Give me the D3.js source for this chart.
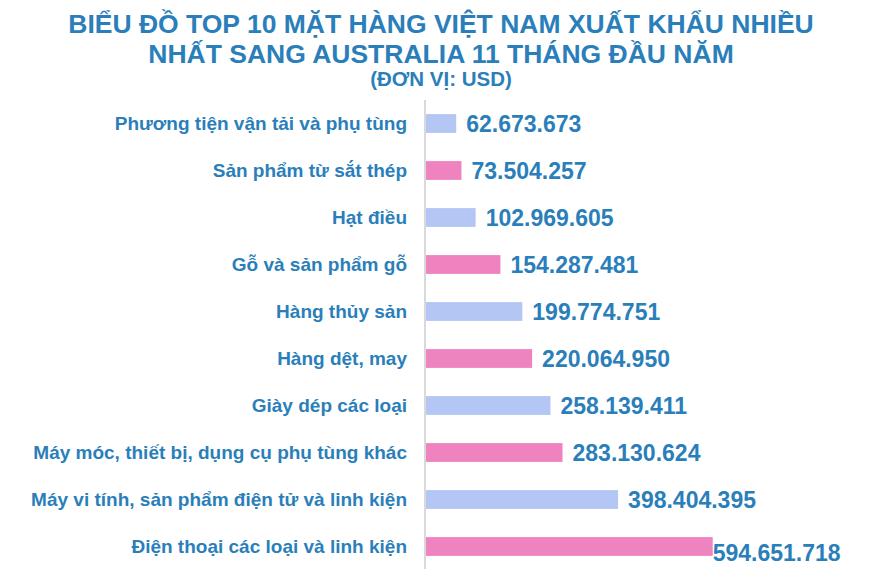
<!DOCTYPE html>
<html>
<head>
<meta charset="utf-8">
<script src="https://cdn.jsdelivr.net/npm/d3@7"></script>
<style>
  body { margin: 0; background: white; }
  text { font-family: "Liberation Sans", Arial, sans-serif; font-weight: bold; }
</style>
</head>
<body>
<script>
const categories = [
    "Phương tiện vận tải và phụ tùng",
    "Sản phẩm từ sắt thép",
    "Hạt điều",
    "Gỗ và sản phẩm gỗ",
    "Hàng thủy sản",
    "Hàng dệt, may",
    "Giày dép các loại",
    "Máy móc, thiết bị, dụng cụ phụ tùng khác",
    "Máy vi tính, sản phẩm điện tử và linh kiện",
    "Điện thoại các loại và linh kiện"
];
const values = [62673673, 73504257, 102969605, 154287481, 199774751, 220064950, 258139411, 283130624, 398404395, 594651718];
const titleLines = [
    "BIỂU ĐỒ TOP 10 MẶT HÀNG VIỆT NAM XUẤT KHẨU NHIỀU",
    "NHẤT SANG AUSTRALIA 11 THÁNG ĐẦU NĂM",
    "(ĐƠN VỊ: USD)"
];

const width = 886, height = 582;
const blue = "#2A7FBA";
const barColours = ["#B4C6F4", "#EE83BF"];

const svg = d3.select("body").append("svg")
    .attr("width", width)
    .attr("height", height);

svg.append("rect")
    .attr("width", width)
    .attr("height", height)
    .attr("fill", "white");

// title
svg.selectAll(".title")
    .data(titleLines)
    .enter().append("text")
        .attr("class", "title")
        .attr("x", 441)
        .attr("y", (d, i) => [33, 63, 86][i])
        .attr("text-anchor", "middle")
        .attr("fill", blue)
        .attr("font-size", (d, i) => i < 2 ? 26.5 : 20.5)
        .text(d => d);

const x0 = 426;
const x = d3.scaleLinear()
    .domain([0, 600000000])
    .range([x0, x0 + 289.3]);

const y = d3.scaleBand()
    .domain(categories)
    .range([100, 570])
    .paddingInner(0.6)
    .paddingOuter(0.3);

const fmt = v => d3.format(",")(v).replace(/,/g, ".");

// axis line
svg.append("line")
    .attr("x1", 425).attr("x2", 425)
    .attr("y1", 100).attr("y2", 569)
    .attr("stroke", "#D9D9D9")
    .attr("stroke-width", 2);

svg.selectAll(".bar")
    .data(values)
    .enter().append("rect")
        .attr("class", "bar")
        .attr("x", x0)
        .attr("y", (d, i) => y(categories[i]))
        .attr("width", d => x(d) - x0)
        .attr("height", y.bandwidth())
        .attr("fill", (d, i) => barColours[i % 2]);

svg.selectAll(".cat")
    .data(categories)
    .enter().append("text")
        .attr("class", "cat")
        .attr("x", 407)
        .attr("y", d => y(d) + y.bandwidth() / 2)
        .attr("dy", "0.35em")
        .attr("text-anchor", "end")
        .attr("fill", blue)
        .attr("font-size", 19)
        .text(d => d);

const maxV = d3.max(values);
svg.selectAll(".val")
    .data(values)
    .enter().append("text")
        .attr("class", "val")
        .attr("x", d => x(d) + (d === maxV ? 0 : 10))
        .attr("y", (d, i) => y(categories[i]) + y.bandwidth() / 2 + (d === maxV ? 6 : 0))
        .attr("dy", "0.35em")
        .attr("fill", blue)
        .attr("font-size", 23)
        .text(d => fmt(d));
</script>
</body>
</html>
